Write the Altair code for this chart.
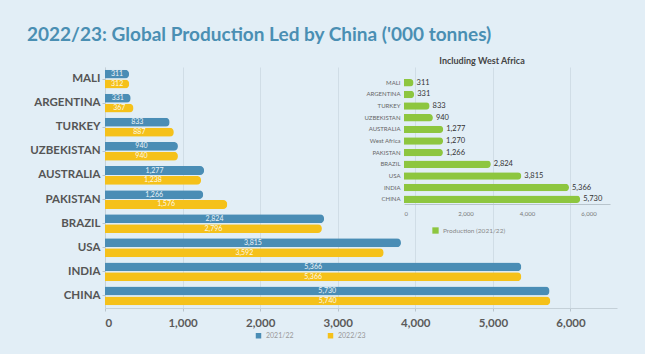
import altair as alt
import pandas as pd

# ---- data ----
countries = ["MALI", "ARGENTINA", "TURKEY", "UZBEKISTAN", "AUSTRALIA",
             "PAKISTAN", "BRAZIL", "USA", "INDIA", "CHINA"]
prod_2122 = [311, 331, 833, 940, 1277, 1266, 2824, 3815, 5366, 5730]
prod_2223 = [312, 367, 887, 940, 1238, 1576, 2796, 3592, 5366, 5740]
series = ["2021/22", "2022/23"]
main_ticks = [0, 1000, 2000, 3000, 4000, 5000, 6000]

inset_countries = ["MALI", "ARGENTINA", "TURKEY", "UZBEKISTAN", "AUSTRALIA",
                   "West Africa", "PAKISTAN", "BRAZIL", "USA", "INDIA", "CHINA"]
inset_values = [311, 331, 833, 940, 1277, 1270, 1266, 2824, 3815, 5366, 5730]
inset_series = ["Production (2021/22)"]
inset_ticks = [0, 2000, 4000, 6000]

title_text = "2022/23: Global Production Led by China ('000 tonnes)"
inset_title = "Including West Africa"

# ---- tables ----
rows = []
for c, a, b in zip(countries, prod_2122, prod_2223):
    rows.append({"country": c, "series": series[0], "value": a})
    rows.append({"country": c, "series": series[1], "value": b})
main_df = pd.DataFrame(rows)
inset_df = pd.DataFrame({"country2": inset_countries, "prod": inset_values,
                         "leg": inset_series * len(inset_countries)})

FONT = "Lato"
BLUE = "#4a8db5"
YELLOW = "#f5c11a"
GREEN = "#8dc63f"

y_axis = alt.Axis(title=None, labelFont=FONT, labelFontWeight="bold",
                  labelFontSize=11.5, labelColor="#555555",
                  tickSize=3, tickColor="#b8c4cc", domainColor="#c4d0d8",
                  labelPadding=2, grid=False)
y_scale = alt.Scale(paddingInner=0.22, paddingOuter=0.11)
x_axis = alt.Axis(title=None, values=main_ticks, format=",.0f",
                  labelFont=FONT, labelFontWeight="bold", labelFontSize=11.5,
                  labelColor="#5a5a5a", labelPadding=6,
                  tickSize=3, tickColor="#b8c4cc", domainColor="#c4d0d8",
                  grid=True, gridColor="#d0dde6")
x_scale = alt.Scale(domain=[0, 6600], nice=False)
yoff_scale = alt.Scale(paddingInner=0.1, paddingOuter=0)

bars = alt.Chart(main_df).mark_bar(cornerRadiusEnd=4).encode(
    y=alt.Y("country:N", sort=countries, scale=y_scale, axis=y_axis),
    yOffset=alt.YOffset("series:N", sort=series, scale=yoff_scale),
    x=alt.X("value:Q", scale=x_scale, axis=x_axis),
    color=alt.Color("series:N",
                    scale=alt.Scale(domain=series, range=[BLUE, YELLOW]),
                    legend=alt.Legend(title=None, orient="none", legendX=150, legendY=265,
                                      direction="horizontal", symbolType="square",
                                      symbolSize=30, symbolStrokeWidth=0,
                                      labelFont=FONT, labelFontSize=7,
                                      labelColor="#999999", columnPadding=33)),
)

labels = alt.Chart(main_df).transform_calculate(
    mid="datum.value / 2"
).mark_text(color="white", font=FONT, fontSize=7, opacity=0.9).encode(
    y=alt.Y("country:N", sort=countries, scale=y_scale, axis=y_axis),
    yOffset=alt.YOffset("series:N", sort=series, scale=yoff_scale),
    x=alt.X("mid:Q", scale=x_scale, axis=x_axis),
    text=alt.Text("value:Q", format=",.0f"),
)

main = alt.layer(bars, labels)

iy_axis = alt.Axis(title=None, orient="left", offset=-297, labelFont=FONT,
                   labelFontSize=6, labelColor="#666666", domain=False,
                   ticks=False, labelPadding=2, grid=False)
iy_scale = alt.Scale(range=[10, 138], paddingInner=0.36, paddingOuter=0.18)
ix_axis = alt.Axis(title=None, orient="bottom", offset=-104, values=inset_ticks,
                   format=",.0f", grid=False, ticks=False, labelFont=FONT,
                   labelFontSize=6, labelColor="#777777", labelPadding=6,
                   domainColor="#b8c4cc")
ix_scale = alt.Scale(domain=[0, 6700], range=[299, 505], nice=False)

ibars = alt.Chart(inset_df).mark_bar(cornerRadiusEnd=3.5).encode(
    y=alt.Y("country2:N", sort=inset_countries, scale=iy_scale, axis=iy_axis),
    x=alt.X("prod:Q", scale=ix_scale, axis=ix_axis),
    color=alt.Color("leg:N", scale=alt.Scale(domain=inset_series, range=[GREEN]),
                    legend=alt.Legend(title=None, orient="none", legendX=327, legendY=160,
                                      symbolType="square", symbolSize=40,
                                      symbolStrokeWidth=0, labelFont=FONT,
                                      labelFontSize=6.5, labelColor="#888888")),
)

ilabels = alt.Chart(inset_df).mark_text(
    align="left", dx=3, font=FONT, fontSize=7.5, color="#333333"
).encode(
    y=alt.Y("country2:N", sort=inset_countries, scale=iy_scale, axis=iy_axis),
    x=alt.X("prod:Q", scale=ix_scale, axis=ix_axis),
    text=alt.Text("prod:Q", format=",.0f"),
)

ititle = alt.Chart(pd.DataFrame({"t": [inset_title]})).mark_text(
    font=FONT, fontSize=9, fontWeight="bold", color="#444444"
).encode(text="t:N", x=alt.value(377), y=alt.value(-6))

inset = alt.layer(ibars, ilabels, ititle)

chart = alt.layer(main, inset).resolve_scale(
    x="independent", y="independent", color="independent"
).properties(
    width=512, height=241,
    autosize=alt.AutoSizeParams(type="none"),
    padding={"left": 105, "top": 67, "right": 28, "bottom": 46},
    background="#e2eef6",
    title=alt.TitleParams(title_text, anchor="start", frame="group", dx=-78, offset=12,
                          font=FONT, fontSize=19, fontWeight="bold", color="#4a8fb3"),
).configure_view(stroke=None)

chart.save("out.html", embed_options={"renderer": "svg", "actions": False})
